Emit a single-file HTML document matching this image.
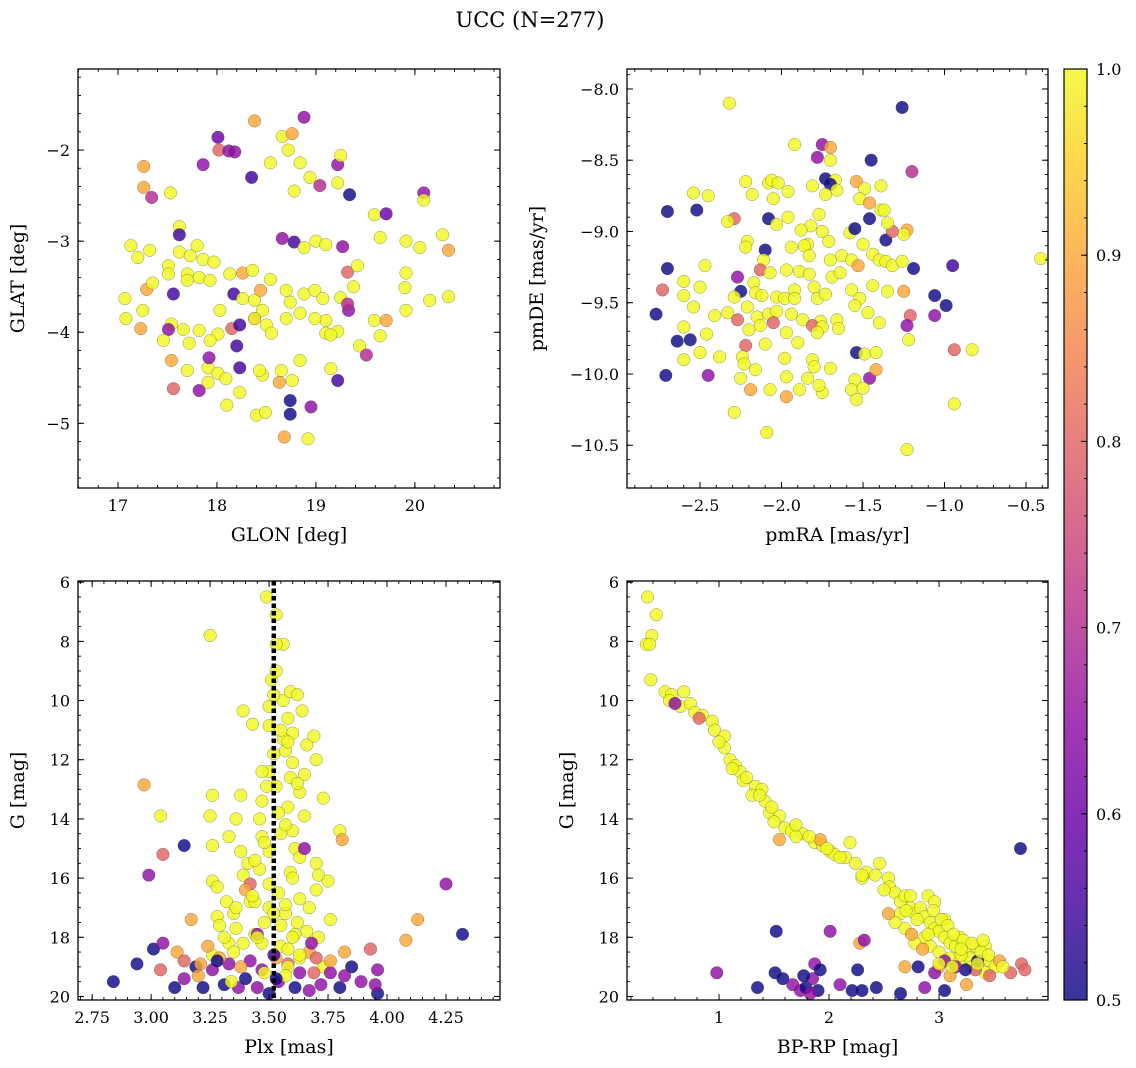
<!DOCTYPE html>
<html><head><meta charset="utf-8"><style>
body{margin:0;background:#fff}
svg{display:block;font-family:"DejaVu Serif","Liberation Serif",serif}
</style></head><body>
<svg id="fig" width="1136" height="1068" viewBox="0 0 1136 1068" xmlns="http://www.w3.org/2000/svg">
<text x="530" y="27" font-size="21" text-anchor="middle">UCC (N=277)</text>
</svg>
<script>
// Panel 1: GLON vs GLAT
const p1_glon=[18.88,18.38,18.66,18.76,18.01,18.02,18.12,18.18,17.86,19.34,17.26,17.26,17.34,17.53,18.35,18.54,18.84,18.72,19.22,19.25,19.22,18.94,19.04,18.78,20.09,20.09,20.28,20.05,20.34,19.91,19.59,19.65,19.71,17.62,17.62,17.73,17.86,17.97,17.62,17.80,17.13,17.20,17.32,17.51,18.66,18.78,18.88,19.00,19.10,19.27,17.51,17.70,17.82,17.93,18.13,18.26,18.36,17.07,17.08,17.29,17.35,17.25,17.56,17.70,18.17,18.03,18.26,18.38,18.44,18.54,18.70,18.74,18.88,18.99,19.07,19.25,19.32,19.42,19.33,19.38,19.91,19.90,20.15,20.34,19.91,19.10,19.22,19.32,19.44,19.59,19.65,19.71,17.54,17.51,17.66,17.82,18.01,18.15,18.23,18.38,18.46,17.23,17.46,17.72,17.93,18.20,18.38,18.50,18.55,18.70,18.84,18.99,19.10,17.70,17.91,18.01,18.23,18.46,18.76,18.65,17.54,17.92,18.43,18.84,19.15,19.51,17.56,17.91,18.09,18.23,19.22,19.15,17.82,18.40,18.10,18.49,18.74,18.74,18.95,18.68,18.92,18.63];
const p1_glat=[-1.64,-1.68,-1.85,-1.82,-1.86,-2.0,-2.01,-2.02,-2.16,-2.49,-2.18,-2.41,-2.52,-2.47,-2.30,-2.14,-2.14,-2.0,-2.16,-2.06,-2.36,-2.30,-2.39,-2.45,-2.47,-2.55,-2.93,-3.07,-3.10,-3.0,-2.71,-2.96,-2.70,-2.84,-3.12,-3.16,-3.20,-3.23,-2.93,-3.05,-3.05,-3.18,-3.10,-3.27,-2.97,-3.01,-3.07,-3.0,-3.04,-3.06,-3.36,-3.36,-3.40,-3.43,-3.36,-3.35,-3.32,-3.63,-3.85,-3.53,-3.46,-3.76,-3.58,-3.43,-3.58,-3.76,-3.63,-3.65,-3.54,-3.42,-3.54,-3.67,-3.58,-3.54,-3.63,-3.62,-3.34,-3.27,-3.76,-3.50,-3.35,-3.51,-3.65,-3.61,-3.76,-3.87,-3.99,-3.69,-4.15,-3.87,-4.04,-3.87,-3.91,-3.97,-3.97,-3.98,-4.02,-3.96,-3.92,-3.85,-3.76,-3.96,-4.09,-4.12,-4.09,-4.15,-3.85,-3.92,-4.01,-3.85,-3.79,-3.85,-4.01,-4.42,-4.39,-4.45,-4.39,-4.47,-4.53,-4.42,-4.31,-4.28,-4.42,-4.31,-4.03,-4.25,-4.62,-4.55,-4.51,-4.66,-4.53,-4.40,-4.64,-4.91,-4.80,-4.88,-4.75,-4.90,-4.82,-5.15,-5.17,-4.55];
const p1_prob=[.65,.9,1,.9,.6,.8,.65,.65,.65,.5,.9,.9,.7,1,.55,1,1,1,.65,1,1,1,.7,1,.65,1,1,1,.9,1,1,1,.6,1,1,1,1,1,.55,1,1,1,1,1,.65,.55,1,1,1,.65,1,1,1,1,1,.9,1,1,1,.9,1,1,.55,1,.55,1,1,1,.9,1,1,1,1,1,1,1,.8,1,.65,1,1,1,1,1,1,1,1,.7,1,1,1,.9,1,.65,1,1,1,.8,.55,.8,1,.9,1,1,1,.55,1,1,1,1,1,1,1,1,1,1,.55,1,1,1,.9,.65,1,1,1,.7,.8,1,1,1,.55,1,.65,1,1,1,.5,.5,.65,.9,1,.9];

// Panel 2: pmRA vs pmDE
const p2_pmra=[-2.32,-1.26,-1.92,-1.75,-1.70,-1.78,-1.70,-1.45,-1.20,-2.22,-2.08,-2.06,-2.02,-2.18,-2.05,-1.96,-1.73,-1.67,-1.70,-1.81,-1.66,-1.73,-1.54,-1.49,-1.39,-2.54,-2.45,-2.70,-2.52,-2.29,-2.33,-1.52,-1.46,-1.39,-1.46,-1.37,-1.23,-1.25,-1.36,-1.32,-1.35,-1.77,-1.96,-2.08,-1.82,-1.88,-1.75,-1.58,-1.55,-1.84,-2.03,-2.21,-2.22,-2.10,-2.11,-1.71,-1.86,-1.94,-1.83,-1.70,-1.63,-1.44,-1.40,-1.36,-1.32,-1.26,-1.50,-1.57,-1.53,-1.19,-0.95,-0.41,-2.70,-2.47,-2.60,-2.50,-2.17,-2.13,-2.07,-1.97,-1.89,-1.92,-1.83,-1.80,-1.69,-1.64,-2.27,-2.25,-2.29,-2.16,-2.12,-2.03,-1.98,-1.92,-1.78,-1.73,-1.57,-1.52,-1.44,-1.35,-1.25,-2.60,-2.73,-2.54,-2.41,-2.33,-2.21,-2.15,-2.08,-2.03,-1.94,-1.87,-1.76,-1.66,-1.55,-1.47,-1.40,-1.06,-0.99,-1.06,-1.21,-1.23,-1.22,-2.77,-2.56,-2.60,-2.64,-2.46,-2.27,-2.20,-2.13,-2.05,-1.97,-1.81,-1.75,-1.65,-2.60,-2.50,-2.38,-2.22,-2.24,-2.10,-1.90,-1.78,-1.54,-1.49,-1.42,-2.71,-2.45,-2.23,-2.25,-2.16,-1.98,-1.97,-1.81,-1.70,-1.55,-1.46,-1.42,-0.94,-0.83,-2.19,-2.07,-1.97,-1.89,-1.75,-1.57,-1.50,-2.29,-2.09,-1.54,-1.23,-0.94,-1.84,-1.80,-1.77];
const p2_pmde=[-8.10,-8.13,-8.39,-8.39,-8.41,-8.48,-8.50,-8.50,-8.58,-8.65,-8.66,-8.64,-8.66,-8.74,-8.77,-8.72,-8.63,-8.64,-8.67,-8.68,-8.71,-8.74,-8.65,-8.70,-8.68,-8.73,-8.75,-8.86,-8.85,-8.91,-8.93,-8.77,-8.80,-8.85,-8.91,-8.85,-8.99,-9.02,-9.06,-9.00,-8.94,-8.88,-8.90,-8.91,-8.96,-8.99,-9.00,-9.01,-8.98,-9.09,-8.95,-9.07,-9.11,-9.13,-9.20,-9.07,-9.10,-9.11,-9.17,-9.20,-9.17,-9.16,-9.20,-9.21,-9.24,-9.21,-9.09,-9.20,-9.24,-9.26,-9.24,-9.19,-9.26,-9.24,-9.35,-9.39,-9.36,-9.27,-9.29,-9.27,-9.28,-9.41,-9.30,-9.39,-9.32,-9.29,-9.32,-9.42,-9.46,-9.43,-9.45,-9.46,-9.47,-9.47,-9.47,-9.44,-9.41,-9.47,-9.38,-9.42,-9.42,-9.45,-9.41,-9.53,-9.59,-9.57,-9.53,-9.60,-9.58,-9.56,-9.58,-9.62,-9.63,-9.62,-9.52,-9.57,-9.64,-9.45,-9.52,-9.59,-9.59,-9.66,-9.76,-9.58,-9.76,-9.67,-9.77,-9.72,-9.62,-9.69,-9.66,-9.64,-9.71,-9.66,-9.67,-9.68,-9.90,-9.85,-9.88,-9.80,-9.88,-9.79,-9.78,-9.71,-9.85,-9.86,-9.85,-10.01,-10.01,-9.93,-10.03,-9.97,-9.89,-10.02,-9.90,-9.96,-10.04,-10.03,-9.97,-9.83,-9.83,-10.11,-10.11,-10.16,-10.11,-10.13,-10.11,-10.10,-10.27,-10.41,-10.18,-10.53,-10.21,-10.03,-9.95,-10.08];
const p2_prob=[1,.5,1,.65,.9,.65,1,.5,.7,1,1,1,1,1,1,1,.5,1,.5,1,1,1,.9,1,1,1,1,.5,.5,.8,1,1,.9,1,.5,1,.9,1,.5,.8,1,1,1,.5,1,1,1,1,.5,1,1,1,1,.5,1,1,1,1,1,1,1,1,1,1,1,1,1,1,.9,.5,.55,1,.5,1,1,1,1,.8,1,1,1,1,1,1,1,1,.65,.5,1,1,1,1,1,1,1,1,1,1,1,1,.9,1,.8,1,1,1,1,1,1,1,1,1,1,1,1,1,1,.5,.5,.65,.8,.65,1,.5,.5,1,.5,1,.8,1,1,.8,1,.8,1,1,1,1,1,.8,1,1,1,1,.5,1,1,.5,.65,1,1,1,1,1,1,1,1,.65,.9,.8,1,.9,1,.9,1,1,1,1,1,1,1,1,1,1];

// Panel 3: Plx vs G
const p3_plx=[3.49,3.53,3.56,3.53,3.25,3.51,3.39,3.43,3.50,3.50,3.56,3.59,3.52,3.62,3.58,3.64,3.60,3.66,3.57,3.52,3.60,3.69,3.70,3.65,3.59,3.63,3.58,3.73,3.65,3.60,3.47,3.46,3.47,3.50,3.55,3.61,3.70,3.71,3.75,3.80,3.81,3.26,3.25,3.26,3.26,3.28,3.33,3.36,3.38,3.39,3.41,3.42,3.35,3.32,3.28,3.17,3.36,3.39,3.44,3.47,3.55,3.62,3.66,3.71,3.76,3.73,3.33,3.26,3.24,3.42,2.97,3.04,3.05,3.14,2.99,3.11,3.01,2.94,2.84,3.04,3.05,4.13,4.25,4.32,4.08,3.96,3.93,3.96,3.95,3.82,3.85,3.10,3.14,3.19,3.22,3.26,3.31,3.33,3.37,3.40,3.42,3.45,3.47,3.50,3.54,3.58,3.61,3.63,3.67,3.69,3.72,3.76,3.80,3.82,3.89,3.14,3.21,3.29,3.38,3.53,3.67,3.70,3.76,3.35,3.63,3.58,3.29,3.50,3.53,3.47,3.46,3.50,3.54,3.59,3.63,3.57,3.50,3.63,3.67,3.44,3.55,3.48,3.38,3.53,3.56,3.49,3.60,3.45,3.52,3.57,3.55,3.58,3.62,3.54,3.48,3.44,3.57,3.61,3.52,3.40,3.45,3.58,3.63,3.68,3.53,3.48,3.36,3.31,3.43,3.57,3.65,3.28,3.20,3.34,3.60,3.70];
const p3_g=[6.5,7.1,8.1,8.1,7.8,9.3,10.35,10.8,10.2,10.85,10.0,9.7,9.8,9.8,10.6,10.35,11.1,11.5,11.7,11.8,12.1,11.2,12.0,12.5,12.6,13.1,13.6,13.3,13.9,14.4,13.4,14.0,14.6,15.1,14.5,15.0,15.5,15.9,16.1,14.4,14.7,13.2,13.9,14.9,16.1,16.3,14.6,14.0,15.1,15.9,15.5,16.8,17.2,16.8,17.3,17.4,17.7,18.2,17.9,18.2,18.3,17.5,17.8,18.0,17.4,19.0,18.2,18.6,18.3,16.2,12.85,13.9,15.2,14.9,15.9,18.5,18.4,18.9,19.5,19.1,18.2,17.4,16.2,17.9,18.1,19.1,18.4,19.9,19.6,18.5,19.0,19.7,19.4,19.0,19.7,19.1,19.6,18.9,19.7,19.4,18.8,19.7,19.1,19.9,19.5,18.9,19.7,19.2,19.8,19.2,19.6,19.2,19.7,19.3,19.5,18.8,18.9,18.7,19.0,18.7,18.5,18.7,18.8,18.5,18.7,19.0,17.6,12.4,12.9,12.4,15.7,16.2,16.5,15.8,15.3,17.2,17.0,16.7,17.0,16.8,17.6,17.5,13.2,9.0,11.3,12.9,16.0,17.9,18.6,19.3,11.0,11.4,12.8,13.8,14.8,15.4,16.9,17.9,17.2,16.4,18.0,18.4,18.6,18.2,19.4,19.2,17.0,18.0,16.6,14.2,15.0,18.8,19.3,19.5,18.0,16.4];
const p3_prob=[1,1,1,1,1,1,1,1,1,1,1,1,1,1,1,1,1,1,1,1,1,1,1,1,1,1,1,1,1,1,1,1,1,1,1,1,1,1,1,1,.9,1,1,1,1,1,1,1,1,1,1,1,1,1,1,.9,1,1,1,1,1,1,1,1,1,1,1,1,.9,.8,.9,1,.8,.5,.65,.9,.5,.5,.5,.8,.65,.9,.65,.5,.9,.65,.8,.5,.65,.9,.5,.5,.65,.5,.5,.65,.5,.65,.65,.5,.65,.65,.65,.5,.65,.8,.5,.65,.65,.8,.65,.65,.5,.65,.65,.8,.9,.9,.9,.9,.9,.8,.9,1,1,1,1,1,1,1,1,1,1,1,1,1,1,1,1,1,1,1,1,1,1,1,1,.65,.55,1,1,1,1,1,1,1,1,1,1,.9,1,1,1,.65,.5,1,1,1,1,1,.65,.5,.9,1,1];

// Panel 4: BP-RP vs G
const p4_bprp=[0.35,0.43,0.39,0.34,0.37,0.38,0.51,0.57,0.68,0.55,0.65,0.74,0.78,0.85,0.94,0.96,1.05,1.05,1.10,1.15,1.19,1.22,1.33,1.39,1.42,1.46,1.55,1.60,1.66,1.76,1.87,1.94,2.01,2.15,2.19,2.24,2.34,2.42,2.46,2.54,2.55,2.60,2.65,2.69,2.74,2.78,2.83,2.87,2.92,2.96,3.00,3.05,3.10,3.15,3.19,3.24,2.87,2.92,3.00,3.10,3.19,3.28,3.33,3.42,3.37,3.46,3.51,3.42,2.78,2.69,2.65,2.74,2.90,2.96,1.12,1.30,1.50,1.70,2.05,2.30,2.60,3.20,3.30,3.05,3.00,3.10,3.25,3.33,3.46,3.65,3.75,3.78,3.55,3.24,3.15,3.05,3.35,3.58,2.54,2.28,2.69,1.92,1.55,2.96,3.74,0.98,1.35,1.52,1.51,1.58,1.67,1.74,1.79,1.85,1.87,1.92,1.90,2.01,2.10,2.21,2.26,2.32,2.30,2.43,2.65,2.81,2.87,3.05,1.83,1.77,0.60,0.82,1.00,1.25,1.37,1.48,1.70,1.82,1.98,2.10,2.30,2.50,2.70,2.80,2.95,3.02,3.08,3.13,3.22,3.30,3.38,3.45,3.00,3.12,2.85,2.90,3.20,3.35,3.40,2.75];
const p4_g=[6.5,7.1,7.8,8.1,8.1,9.3,9.7,9.8,9.7,10.0,10.2,10.1,10.4,10.5,10.7,11.0,11.2,11.6,12.0,12.2,12.4,12.7,12.9,13.0,13.4,13.8,13.9,14.3,14.4,14.5,14.8,14.9,15.1,15.3,14.8,15.5,15.8,15.9,15.5,16.0,16.3,16.5,16.8,16.6,17.0,17.2,17.0,17.3,17.5,17.7,17.8,18.0,18.2,18.3,18.0,18.5,18.0,18.3,18.5,18.7,18.8,18.7,18.3,18.3,18.8,18.8,19.0,19.2,18.2,17.7,17.2,16.6,16.6,16.8,12.3,13.2,14.1,14.6,15.2,16.0,17.5,18.6,19.0,17.4,19.0,19.3,19.6,19.1,19.3,19.2,18.9,19.1,18.8,19.1,19.0,18.8,18.8,19.0,17.2,18.2,19.0,14.7,14.7,19.2,15.0,19.2,19.7,17.8,19.2,19.4,19.6,19.8,19.7,19.4,18.9,19.1,19.8,17.8,19.6,19.8,19.1,18.1,19.8,19.7,19.9,19.0,19.7,19.8,19.9,19.3,10.1,10.6,11.4,12.6,13.2,13.6,14.2,14.6,15.0,15.3,15.9,16.4,17.1,17.4,17.1,17.4,17.6,17.9,18.1,18.2,18.5,18.6,18.9,19.0,18.4,17.9,18.4,18.9,18.1,17.9];
const p4_prob=[1,1,1,1,1,1,1,1,1,1,1,1,1,1,1,1,1,1,1,1,1,1,1,1,1,1,1,1,1,1,1,1,1,1,1,1,1,1,1,1,1,1,1,1,1,1,1,1,1,1,1,1,1,1,1,1,1,1,1,1,1,1,1,1,1,1,1,1,1,1,1,1,1,1,1,1,1,1,1,1,1,1,1,1,.9,.9,.9,.8,.8,.8,.8,.8,.9,.5,.65,.65,.5,1,.9,.9,.9,.9,.9,.65,.5,.65,.5,.5,.5,.5,.65,.65,.5,.65,.65,.5,.5,.65,.65,.5,.5,.65,.5,.5,.5,.5,.65,.5,.65,.5,.65,.8,1,1,1,1,1,1,1,1,1,1,1,1,1,1,1,1,1,1,1,1,1,1,.9,1,1,1,1,.9,1,1];

// Axis tick arrays
const p1_xticks=[17,18,19,20], p1_yticks=[-2,-3,-4,-5];
const p2_xticks=[-2.5,-2.0,-1.5,-1.0,-0.5], p2_yticks=[-8.0,-8.5,-9.0,-9.5,-10.0,-10.5];
const p3_xticks=[2.75,3.00,3.25,3.50,3.75,4.00,4.25], g_ticks=[6,8,10,12,14,16,18,20];
const p4_xticks=[1,2,3];
const cb_ticks=[0.5,0.6,0.7,0.8,0.9,1.0];
const plx_line=3.52;

const NS='http://www.w3.org/2000/svg';
const svg=document.getElementById('fig');
function el(tag,attrs,parent){const e=document.createElementNS(NS,tag);for(const k in attrs)e.setAttribute(k,attrs[k]);(parent||svg).appendChild(e);return e;}
const stops=[[13,8,135],[65,4,157],[106,0,168],[143,13,164],[177,42,144],[204,71,120],[225,100,98],[242,132,75],[252,166,54],[252,206,37],[240,249,33]];
function plasma(t){if(!isFinite(t))t=1;t=Math.max(0,Math.min(1,t));const f=t*10,i=Math.min(9,Math.floor(f)),r=f-i;const a=stops[i],b=stops[i+1];return 'rgb('+a.map((v,k)=>Math.round(v+(b[k]-v)*r)).join(',')+')';}
function pcol(p){if(p===undefined)p=1;return plasma((p-0.5)/0.5);}
function fmt(v,d){return (v<0?'\u2212':'')+Math.abs(v).toFixed(d);}

function panel(cfg){
  const g=el('g',{},svg);
  
  
  const {L,T,R,B,x0,x1,y0,y1}=cfg;
  const sx=v=>L+(v-x0)/(x1-x0)*(R-L);
  const sy=v=>T+(v-y0)/(y1-y0)*(B-T);
  const clip=el('clipPath',{id:'c'+cfg.name},g);
  el('rect',{x:L,y:T,width:R-L,height:B-T},clip);
  const pts=el('g',{'clip-path':'url(#c'+cfg.name+')'},g);
  
  
  const n=Math.min(cfg.xs.length,cfg.ys.length);
  for(let i=0;i<n;i++){
    const c=el('circle',{cx:sx(cfg.xs[i]),cy:sy(cfg.ys[i]),r:6.3,fill:pcol(cfg.ps[i]),'fill-opacity':0.82,stroke:'rgba(60,60,60,0.55)','stroke-width':0.5},pts);
    
    
  }
  if(cfg.vline!==undefined){
    const ln=el('line',{x1:sx(cfg.vline),x2:sx(cfg.vline),y1:T,y2:B,stroke:'#000','stroke-width':4.5,'stroke-dasharray':'4.5 3'},g);
    
    
  }
  const fr=el('rect',{x:L,y:T,width:R-L,height:B-T,fill:'none',stroke:'#000','stroke-width':1.3},g);
  
  
  const lo=Math.min(x0,x1),hi=Math.max(x0,x1);
  for(let v=Math.ceil(lo/cfg.xmin)*cfg.xmin;v<=hi;v+=cfg.xmin){const x=sx(v);el('line',{x1:x,x2:x,y1:B,y2:B-3,stroke:'#000','stroke-width':0.9},g);el('line',{x1:x,x2:x,y1:T,y2:T+3,stroke:'#000','stroke-width':0.9},g);}
  cfg.xt.forEach(v=>{const x=sx(v);el('line',{x1:x,x2:x,y1:B,y2:B-6,stroke:'#000','stroke-width':1},g);el('line',{x1:x,x2:x,y1:T,y2:T+6,stroke:'#000','stroke-width':1},g);
    const t=el('text',{x:x,y:B+23,'font-size':16,'text-anchor':'middle'},g);t.textContent=fmt(v,cfg.xd);
    
    });
  const ylo=Math.min(y0,y1),yhi=Math.max(y0,y1);
  for(let v=Math.ceil(ylo/cfg.ymin-1e-9)*cfg.ymin;v<=yhi;v+=cfg.ymin){const y=sy(v);el('line',{x1:L,x2:L+3,y1:y,y2:y,stroke:'#000','stroke-width':0.9},g);el('line',{x1:R,x2:R-3,y1:y,y2:y,stroke:'#000','stroke-width':0.9},g);}
  cfg.yt.forEach(v=>{const y=sy(v);el('line',{x1:L,x2:L+6,y1:y,y2:y,stroke:'#000','stroke-width':1},g);el('line',{x1:R,x2:R-6,y1:y,y2:y,stroke:'#000','stroke-width':1},g);
    const t=el('text',{x:L-8,y:y+6,'font-size':16,'text-anchor':'end'},g);t.textContent=fmt(v,cfg.yd);
    
    });
  const xl=el('text',{x:(L+R)/2,y:B+53,'font-size':19,'text-anchor':'middle'},g);xl.textContent=cfg.xlabel;
  
  
  const yx=cfg.ylx;
  const yl=el('text',{x:yx,y:(T+B)/2,'font-size':19,'text-anchor':'middle',transform:'rotate(-90 '+yx+' '+((T+B)/2)+')'},g);yl.textContent=cfg.ylabel;
  
  
}
panel({name:'glon-glat-panel',L:78,T:69,R:500,B:488,x0:16.596,x1:20.86,y0:-1.11,y1:-5.71,xs:p1_glon,ys:p1_glat,ps:p1_prob,xt:p1_xticks,yt:p1_yticks,xmin:0.2,ymin:0.2,xd:0,yd:0,xlabel:'GLON [deg]',ylabel:'GLAT [deg]',ylx:24});
panel({name:'pm-panel',L:627,T:69,R:1048,B:488,x0:-2.948,x1:-0.365,y0:-7.86,y1:-10.80,xs:p2_pmra,ys:p2_pmde,ps:p2_prob,xt:p2_xticks,yt:p2_yticks,xmin:0.1,ymin:0.1,xd:1,yd:1,xlabel:'pmRA [mas/yr]',ylabel:'pmDE [mas/yr]',ylx:543});
panel({name:'plx-g-panel',L:78,T:581,R:500,B:1000,x0:2.69,x1:4.479,y0:5.96,y1:20.12,xs:p3_plx,ys:p3_g,ps:p3_prob,xt:p3_xticks,yt:g_ticks,xmin:0.05,ymin:0.5,xd:2,yd:0,xlabel:'Plx [mas]',ylabel:'G [mag]',ylx:24,vline:plx_line});
panel({name:'cmd-panel',L:627,T:581,R:1048,B:1000,x0:0.164,x1:3.99,y0:5.96,y1:20.12,xs:p4_bprp,ys:p4_g,ps:p4_prob,xt:p4_xticks,yt:g_ticks,xmin:0.2,ymin:0.5,xd:0,yd:0,xlabel:'BP-RP [mag]',ylabel:'G [mag]',ylx:573});

// Colorbar
const cb=el('g',{},svg);


const CL=1064,CR=1087,CT=69,CB=1000;
const defs=el('defs',{},svg);
const lg=el('linearGradient',{id:'cbg',x1:0,y1:1,x2:0,y2:0},defs);
for(let i=0;i<=20;i++){el('stop',{offset:i/20,'stop-color':plasma(i/20),'stop-opacity':0.82},lg);}
el('rect',{x:CL,y:CT,width:CR-CL,height:CB-CT,fill:'url(#cbg)',stroke:'#000','stroke-width':1.2},cb);
const csy=v=>CB-(v-0.5)/0.5*(CB-CT);
for(let v=0.5;v<=1.0001;v+=0.02){el('line',{x1:CR,x2:CR-3,y1:csy(v),y2:csy(v),stroke:'#000','stroke-width':0.9},cb);}
cb_ticks.forEach(v=>{const y=csy(v);el('line',{x1:CR,x2:CR-6,y1:y,y2:y,stroke:'#000','stroke-width':1},cb);
  const t=el('text',{x:CR+9,y:y+6,'font-size':16},cb);t.textContent=v.toFixed(1);
  
  });
</script>
</body></html>
